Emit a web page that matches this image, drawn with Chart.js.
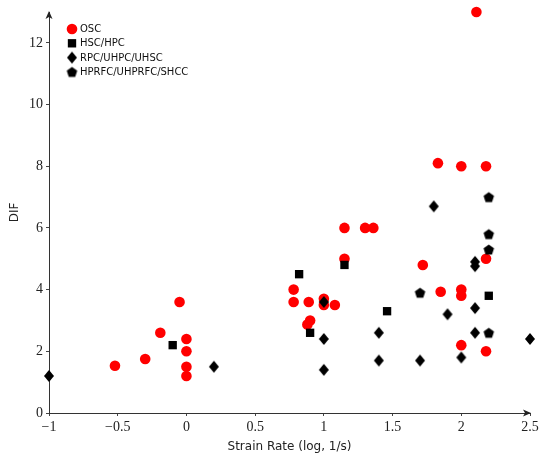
<!DOCTYPE html>
<html>
<head>
<meta charset="utf-8">
<script src="https://cdn.jsdelivr.net/npm/chart.js@4/dist/chart.umd.min.js"></script>
<style>
html, body { margin: 0; padding: 0; background: #fff; }
</style>
</head>
<body>
<canvas id="dif-chart" width="550" height="461"></canvas>
<script>
const ctx = document.getElementById('dif-chart').getContext('2d');

// series values
let oscX = [-0.52, -0.30, -0.19, -0.05, 0, 0, 0, 0, 0.78, 0.78, 0.89, 1.0, 1.0, 1.08, 0.90, 0.88, 1.15, 1.15, 1.30, 1.36, 1.72, 1.83, 1.85, 2.0, 2.0, 2.0, 2.0, 2.11, 2.18, 2.18, 2.18];
let oscY = [1.53, 1.75, 2.6, 3.6, 2.4, 2.0, 1.5, 1.2, 4.0, 3.6, 3.6, 3.7, 3.5, 3.5, 3.0, 2.87, 6.0, 5.0, 6.0, 6.0, 4.8, 8.1, 3.93, 8.0, 4.0, 3.8, 2.2, 13.0, 8.0, 5.0, 2.0];

let hscX = [-0.10, 0.82, 0.90, 1.15, 1.46, 2.2];
let hscY = [2.2, 4.5, 2.6, 4.8, 3.3, 3.8];

let rpcX = [-1.0, 0.2, 1.0, 1.0, 1.0, 1.4, 1.4, 1.7, 1.8, 1.9, 2.0, 2.1, 2.1, 2.1, 2.1, 2.5];
let rpcY = [1.2, 1.5, 3.6, 2.4, 1.4, 2.6, 1.7, 1.7, 6.7, 3.2, 1.8, 4.9, 4.76, 3.4, 2.6, 2.4];

let hprX = [1.7, 2.2, 2.2, 2.2, 2.2];
let hprY = [3.9, 7.0, 5.8, 5.3, 2.6];

let seriesNames = ['OSC', 'HSC/HPC', 'RPC/UHPC/UHSC', 'HPRFC/UHPRFC/SHCC'];

let xTicks = [-1, -0.5, 0, 0.5, 1, 1.5, 2, 2.5];
let yTicks = [0, 2, 4, 6, 8, 10, 12];

function points(xs, ys) {
    return xs.map((x, i) => ({ x: x, y: ys[i] }));
}

// marks that Chart.js has no built-in style for
function makePentagon(r) {
    const c = document.createElement('canvas');
    c.width = c.height = Math.ceil(2 * r) + 2;
    const g = c.getContext('2d');
    const cx = c.width / 2, cy = c.height / 2 + r * 0.095;
    g.beginPath();
    for (let i = 0; i < 5; i++) {
        const a = -Math.PI / 2 + i * 2 * Math.PI / 5;
        g.lineTo(cx + r * Math.cos(a), cy + r * Math.sin(a));
    }
    g.closePath();
    g.fillStyle = '#000';
    g.fill();
    return c;
}

function makeDiamond(w, h) {
    const c = document.createElement('canvas');
    c.width = w + 2;
    c.height = h + 2;
    const g = c.getContext('2d');
    g.beginPath();
    g.moveTo(c.width / 2, 1);
    g.lineTo(c.width - 1, c.height / 2);
    g.lineTo(c.width / 2, c.height - 1);
    g.lineTo(1, c.height / 2);
    g.closePath();
    g.fillStyle = '#000';
    g.fill();
    return c;
}

const pentagon = makePentagon(5.5);
const diamond = makeDiamond(10, 12);

const serifFont = { family: "'Liberation Serif', serif", size: 14 };
const sansFont = { family: "'DejaVu Sans', sans-serif", size: 12 };

// axis arrows + legend inside the plot, top left
const extras = {
    id: 'extras',
    afterDraw(chart) {
        const c = chart.ctx;
        const a = chart.chartArea;
        c.save();
        c.fillStyle = '#222';
        c.beginPath();
        c.moveTo(a.right + 1, a.bottom);
        c.lineTo(a.right - 7, a.bottom - 3.5);
        c.lineTo(a.right - 5, a.bottom);
        c.lineTo(a.right - 7, a.bottom + 3.5);
        c.closePath();
        c.fill();
        c.beginPath();
        c.moveTo(a.left, a.top - 1);
        c.lineTo(a.left - 3.5, a.top + 7);
        c.lineTo(a.left, a.top + 5);
        c.lineTo(a.left + 3.5, a.top + 7);
        c.closePath();
        c.fill();

        const lx = 72, ly = 29, step = 14.3;
        c.font = "10px 'DejaVu Sans', sans-serif";
        c.textBaseline = 'middle';
        chart.data.datasets.forEach((ds, i) => {
            const y = ly + i * step;
            const st = ds.pointStyle;
            c.fillStyle = ds.backgroundColor;
            if (st === 'circle') {
                c.beginPath();
                c.arc(lx, y, ds.pointRadius, 0, Math.PI * 2);
                c.fill();
            } else if (st === 'rect') {
                const s = ds.pointRadius * Math.SQRT1_2;
                c.fillRect(lx - s, y - s, 2 * s, 2 * s);
            } else {
                c.drawImage(st, lx - st.width / 2, y - st.height / 2);
            }
            c.fillStyle = '#111';
            c.fillText(ds.label, 80, y + 0.5);
        });
        c.restore();
    }
};

let difChart = new Chart(ctx, {
    type: 'scatter',
    data: {
        datasets: [{
            label: seriesNames[0],
            data: points(oscX, oscY),
            pointStyle: 'circle',
            pointRadius: 5.3,
            backgroundColor: 'rgb(255, 0, 0)',
            borderWidth: 0,
            order: 3
        }, {
            label: seriesNames[1],
            data: points(hscX, hscY),
            pointStyle: 'rect',
            pointRadius: 5.9,
            backgroundColor: '#000',
            borderWidth: 0,
            order: 2
        }, {
            label: seriesNames[2],
            data: points(rpcX, rpcY),
            pointStyle: diamond,
            pointRadius: 6,
            backgroundColor: '#000',
            borderWidth: 0,
            order: 1
        }, {
            label: seriesNames[3],
            data: points(hprX, hprY),
            pointStyle: pentagon,
            pointRadius: 6,
            backgroundColor: '#000',
            borderWidth: 0,
            order: 0
        }]
    },
    options: {
        responsive: false,
        animation: false,
        clip: false,
        layout: {
            padding: { top: 12, right: 20, left: 0, bottom: 0 }
        },
        scales: {
            x: {
                type: 'linear',
                min: -1,
                max: 2.5,
                afterBuildTicks: (s) => { s.ticks = xTicks.map(v => ({ value: v })); },
                afterFit: (s) => { s.height = 48; },
                ticks: {
                    font: serifFont,
                    color: '#222',
                    padding: 3,
                    callback: (v) => String(v).replace('-', '\u2212')
                },
                grid: { drawOnChartArea: false, tickLength: 3, color: '#444' },
                border: { color: '#333', width: 1 },
                title: {
                    display: true,
                    text: 'Strain Rate (log, 1/s)',
                    font: sansFont,
                    color: '#222',
                    padding: { top: 4, bottom: 7 }
                }
            },
            y: {
                min: 0,
                max: 13,
                afterBuildTicks: (s) => { s.ticks = yTicks.map(v => ({ value: v })); },
                afterFit: (s) => { s.width = 49; },
                ticks: {
                    font: serifFont,
                    color: '#222',
                    padding: 3
                },
                grid: { drawOnChartArea: false, tickLength: 3, color: '#444' },
                border: { color: '#333', width: 1 },
                title: {
                    display: true,
                    text: 'DIF',
                    font: sansFont,
                    color: '#222',
                    padding: { top: 8, bottom: 0 }
                }
            }
        },
        plugins: {
            legend: { display: false },
            tooltip: { enabled: false }
        }
    },
    plugins: [extras]
});
</script>
</body>
</html>
